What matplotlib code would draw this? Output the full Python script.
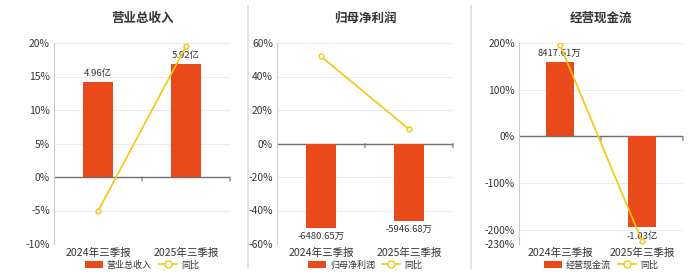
import matplotlib
matplotlib.use("Agg")
import matplotlib.pyplot as plt
import matplotlib.transforms as mtransforms
from matplotlib.lines import Line2D
from matplotlib.patches import Patch

plt.rcParams['font.family'] = ['Noto Sans CJK SC', 'DejaVu Sans']

categories = ["2024年三季报", "2025年三季报"]
titles = ["营业总收入", "归母净利润", "经营现金流"]
bar_values = [[4.96, 5.92], [-6480.65, -5946.68], [8417.61, -10300.0]]
bar_labels = [["4.96亿", "5.92亿"], ["-6480.65万", "-5946.68万"], ["8417.61万", "-1.03亿"]]
yoy_values = [[-5.1, 19.5], [52.0, 8.5], [196.0, -224.0]]
pct_ticks = [[-10, -5, 0, 5, 10, 15, 20], [-60, -40, -20, 0, 20, 40, 60], [-230, -200, -100, 0, 100, 200]]
pct_lims = [(-10, 20), (-60, 60), (-230, 200)]
bar_lims = [(-3.5, 7.0), (-7750, 7750), (-12180, 10590)]

W, H = 700, 272
fig = plt.figure(figsize=(7, 2.72), dpi=100)
ax_px = [(54, 230), (277, 453), (519, 683)]
top_px, bot_px = 43, 244
bar_color = "#E84A19"
line_color = "#F5C70A"

for i in range(3):
    l, r = ax_px[i]
    ax = fig.add_axes([l / W, (H - bot_px) / H, (r - l) / W, (bot_px - top_px) / H])
    ax.set_xlim(-0.5, 1.5)
    ax.set_ylim(*pct_lims[i])
    ax.set_yticks(pct_ticks[i])
    ax.set_yticklabels([f"{t}%" for t in pct_ticks[i]], fontsize=7.4, color="#333333")
    ax.grid(axis='y', color="#E6ECF5", linewidth=0.8)
    ax.set_axisbelow(True)
    for s in ['top', 'right', 'bottom']:
        ax.spines[s].set_visible(False)
    ax.spines['left'].set_color("#CCCCCC")
    ax.tick_params(axis='y', length=0, pad=3)
    ax.tick_params(axis='x', length=0, pad=3)
    ax.set_xticks([0, 1])
    ax.set_xticklabels(categories, fontsize=7.6, color="#333333")
    ax.axhline(0, color="#6E7079", linewidth=1.0, zorder=2)
    # small category-boundary ticks on the zero line
    trans = mtransforms.offset_copy(ax.transData, fig=fig, x=0, y=0, units='dots')
    for xb in [0.5, 1.5]:
        ax.plot([xb, xb], [0, 0], transform=ax.transData, alpha=0)
        ax.annotate("", xy=(xb, 0), xytext=(0, -3), textcoords='offset points',
                    arrowprops=dict(arrowstyle='-', color="#6E7079", lw=0.8, shrinkA=0, shrinkB=0))
    ax.set_title(titles[i], fontsize=9, fontweight='bold', color="#333333", pad=0, y=1.0 + 21 / 201)

    ax2 = ax.twinx()
    ax2.set_ylim(*bar_lims[i])
    ax2.set_axis_off()
    bw = 0.33
    for j, v in enumerate(bar_values[i]):
        ax2.bar(j, v, width=bw, color=bar_color, zorder=3)
        off = 3 if v > 0 else -3
        ax2.annotate(bar_labels[i][j], (j, v), xytext=(0, off), textcoords='offset points',
                     ha='center', va='bottom' if v > 0 else 'top', fontsize=6.8, color="#333333", zorder=6)

    ax3 = ax.twinx()
    ax3.set_ylim(*pct_lims[i])
    ax3.set_axis_off()
    ax3.plot([0, 1], yoy_values[i], color=line_color, linewidth=1.2, marker='o', markersize=3.5,
             markerfacecolor='white', markeredgecolor=line_color, markeredgewidth=1.0, zorder=5)

    handles = [Patch(facecolor=bar_color, edgecolor='none'),
               Line2D([0], [0], color=line_color, marker='o', markerfacecolor='white', markersize=5, linewidth=1.2)]
    fig.legend(handles, [titles[i], "同比"], loc='center', ncol=2, frameon=False, fontsize=6.5,
               bbox_to_anchor=(((l + r) / 2) / W, (H - 265) / H), handlelength=2.0, handleheight=0.9,
               columnspacing=0.8, handletextpad=0.4, labelcolor="#333333")

for xd in [248, 471]:
    fig.add_artist(Line2D([xd / W, xd / W], [(H - 268) / H, (H - 6) / H], color="#DDDDDD", linewidth=1.2))

fig.savefig("out.png", dpi=100)
